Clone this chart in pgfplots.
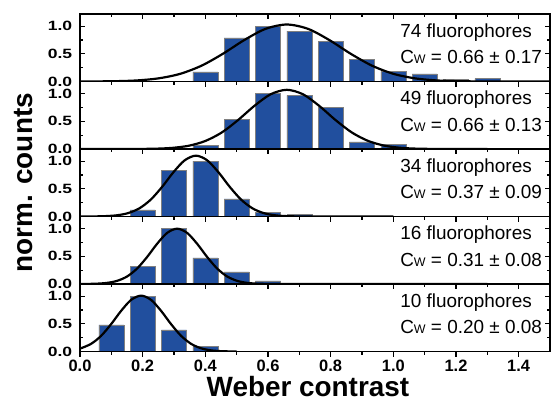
\documentclass[border=0pt]{standalone}
\usepackage{pgfplots}
\pgfplotsset{compat=1.18}
\usepackage{fontspec}
\setmainfont{Liberation Sans}
\definecolor{barblue}{RGB}{33,79,158}
\pgfplotsset{
  panel/.style={
    scale only axis, width=470bp, height=67.5bp,
    xmin=0, xmax=1.5, ymin=0, ymax=1.22,
    axis line style={line width=1.6bp},
    xtick={0,0.2,...,1.4}, minor x tick num=1, xtick pos=top, xticklabels={},
    ytick={0,0.5,1}, minor y tick num=1, ytick pos=both, yticklabel pos=left,
    tick align=inside,
    major tick length=5bp, minor tick length=3bp,
    every tick/.style={line width=1.2bp, black},
    /pgf/number format/assume math mode=true,
    yticklabel style={font=\bfseries\fontsize{13.5}{13.5}\selectfont, xscale=1.3, xshift=-2.5bp, inner ysep=0pt, /pgf/number format/fixed, /pgf/number format/fixed zerofill, /pgf/number format/precision=1},
  },
  bars/.style={ybar, bar width=0.08, fill=barblue, draw=gray, line width=0.5bp},
  fit/.style={smooth, line width=2.2bp, black},
}
\newcommand{\ann}[2]{%
  \node[anchor=base west, font=\fontsize{19}{20}\selectfont, inner sep=0] at (rel axis cs:0.681,0.659) {#1 fluorophores};
  \node[anchor=base west, font=\fontsize{19}{20}\selectfont, inner sep=0] at (rel axis cs:0.681,0.262) {C{\fontsize{12.5}{12.5}\selectfont W} = #2};
}
\begin{document}
\begin{tikzpicture}
\path[use as bounding box] (-80bp,14bp) rectangle (474bp,-391bp);
% panel 1
\begin{axis}[panel, at={(0,-67.5bp)}]
\addplot[bars] coordinates {(0.4,0.175)(0.5,0.79)(0.6,1.0)(0.7,0.91)(0.8,0.73)(0.9,0.40)(1.0,0.18)(1.1,0.14)(1.2,0.04)(1.3,0.05)};
\addplot[fit] coordinates {(0,0.0005)(0.048,0.0016)(0.116,0.006)(0.184,0.020)(0.252,0.058)(0.32,0.139)(0.388,0.286)(0.456,0.501)(0.524,0.748)(0.592,0.951)(0.66,1.03)(0.728,0.951)(0.796,0.748)(0.864,0.501)(0.932,0.286)(1.0,0.139)(1.068,0.058)(1.136,0.020)(1.204,0.006)(1.272,0.0016)(1.34,0.0003)(1.5,0)};
\ann{74}{0.66 ± 0.17}
\end{axis}
% panel 2
\begin{axis}[panel, at={(0,-135bp)}]
\addplot[bars] coordinates {(0.4,0.07)(0.5,0.53)(0.6,1.0)(0.7,0.97)(0.8,0.75)(0.9,0.13)(1.0,0.09)};
\addplot[fit] coordinates {(0,0)(0.14,0.0004)(0.192,0.0016)(0.244,0.006)(0.296,0.021)(0.348,0.060)(0.40,0.145)(0.452,0.297)(0.504,0.521)(0.556,0.777)(0.608,0.988)(0.66,1.07)(0.712,0.988)(0.764,0.777)(0.816,0.521)(0.868,0.297)(0.92,0.145)(0.972,0.060)(1.024,0.021)(1.076,0.006)(1.128,0.0016)(1.18,0.0004)(1.3,0)};
\ann{49}{0.66 ± 0.13}
\end{axis}
% panel 3
\begin{axis}[panel, at={(0,-202.5bp)}, ylabel={norm. counts},
  every axis y label/.style={at={(axis description cs:-0.121,0.5)}, rotate=90, anchor=center, font=\bfseries\fontsize{28}{28}\selectfont}]
\addplot[bars] coordinates {(0.2,0.12)(0.3,0.83)(0.4,1.0)(0.5,0.32)(0.6,0.07)(0.7,0.04)};
\addplot[fit] coordinates {(0,0.0002)(0.01,0.0004)(0.046,0.0017)(0.082,0.007)(0.118,0.022)(0.154,0.062)(0.19,0.149)(0.226,0.306)(0.262,0.535)(0.298,0.799)(0.334,1.015)(0.37,1.10)(0.406,1.015)(0.442,0.799)(0.478,0.535)(0.514,0.306)(0.55,0.149)(0.586,0.062)(0.622,0.022)(0.658,0.007)(0.694,0.0017)(0.73,0.0004)(1.0,0)};
\ann{34}{0.37 ± 0.09}
\end{axis}
% panel 4
\begin{axis}[panel, at={(0,-270bp)}]
\addplot[bars] coordinates {(0.2,0.32)(0.3,1.0)(0.4,0.47)(0.5,0.22)(0.6,0.056)};
\addplot[fit] coordinates {(0,0.0006)(0.022,0.0015)(0.054,0.006)(0.086,0.020)(0.118,0.056)(0.15,0.135)(0.182,0.278)(0.214,0.487)(0.246,0.726)(0.278,0.923)(0.31,1.0)(0.342,0.923)(0.374,0.726)(0.406,0.487)(0.438,0.278)(0.47,0.135)(0.502,0.056)(0.534,0.020)(0.566,0.006)(0.598,0.0015)(0.63,0.0003)(1.3,0)};
\ann{16}{0.31 ± 0.08}
\end{axis}
% panel 5
\begin{axis}[panel, at={(0,-337.5bp)}]
\addplot[bars] coordinates {(0.1,0.48)(0.2,1.0)(0.3,0.39)(0.4,0.09)};
\addplot[fit] coordinates {(0,0.052)(0.035,0.137)(0.067,0.281)(0.099,0.492)(0.131,0.733)(0.163,0.932)(0.195,1.01)(0.227,0.932)(0.259,0.733)(0.291,0.492)(0.323,0.281)(0.355,0.137)(0.387,0.057)(0.419,0.020)(0.451,0.006)(0.483,0.0015)(0.5,0.0007)};
\ann{10}{0.20 ± 0.08}
\end{axis}
% bottom axis with outward ticks and labels
\begin{axis}[scale only axis, width=470bp, height=67.5bp, at={(0,-337.5bp)},
  xmin=0, xmax=1.5, ymin=0, ymax=1.22,
  hide y axis, axis x line*=bottom,
  axis line style={line width=1.6bp},
  xtick={0,0.2,...,1.4}, minor x tick num=1, tick align=outside,
  major tick length=5bp, minor tick length=3bp,
  every tick/.style={line width=1.2bp, black},
  /pgf/number format/assume math mode=true,
  xticklabel style={font=\bfseries\fontsize{16.5}{16.5}\selectfont, /pgf/number format/fixed, /pgf/number format/fixed zerofill, /pgf/number format/precision=1},
  xlabel={Weber contrast},
  every axis x label/.style={at={(axis description cs:0.485,0)}, anchor=base, yshift=-45bp, font=\bfseries\fontsize{28}{28}\selectfont}]
\addplot[draw=none] coordinates {(0,0)};
\end{axis}
\end{tikzpicture}
\end{document}
